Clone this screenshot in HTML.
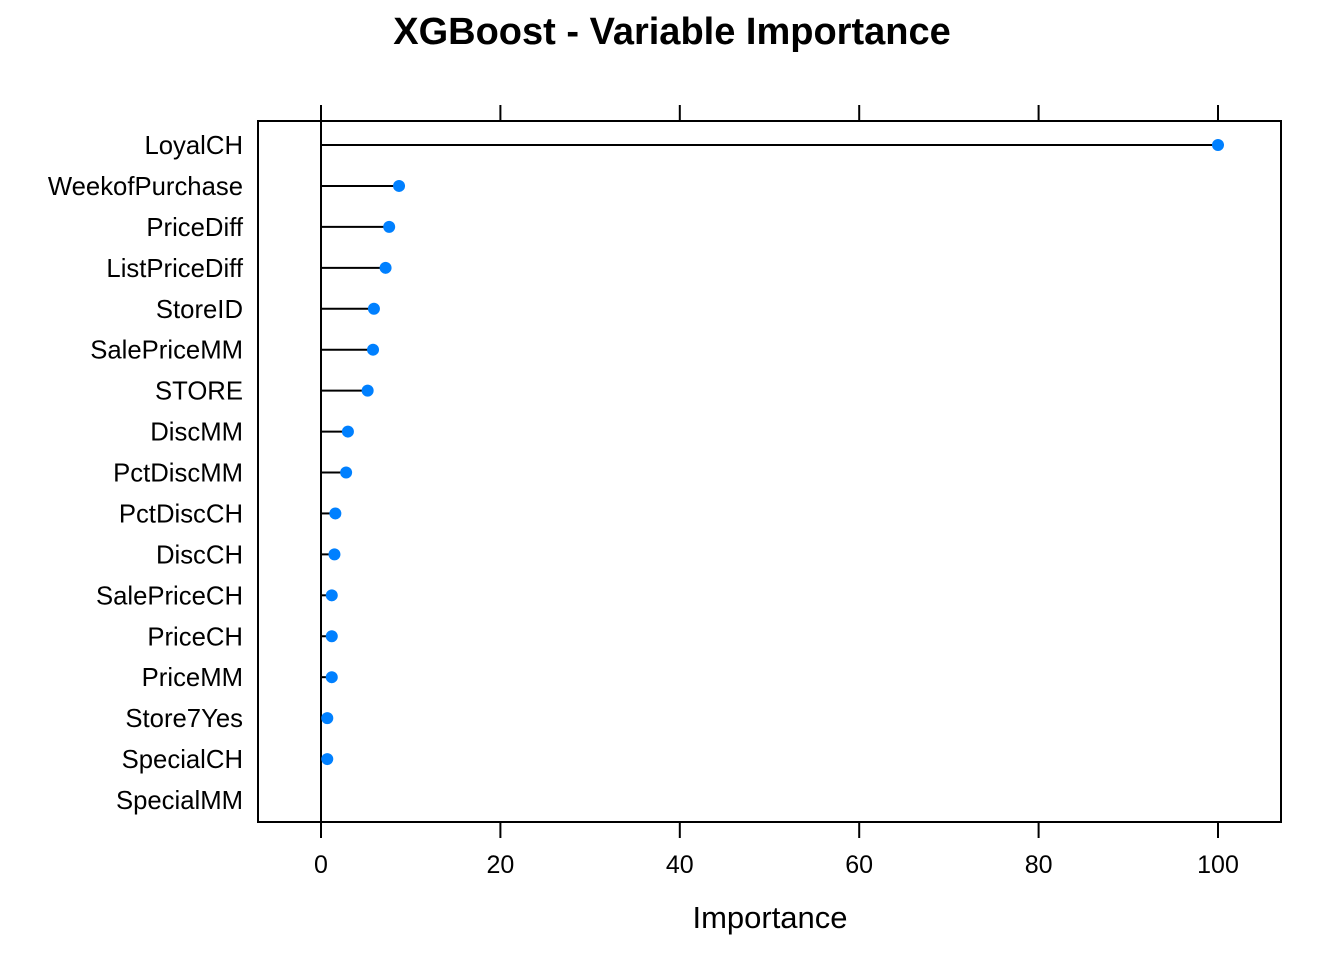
<!DOCTYPE html>
<html><head><meta charset="utf-8"><style>
html,body{margin:0;padding:0;background:#fff;}
svg{display:block;font-family:"Liberation Sans",Arial,sans-serif;}
</style></head><body>
<svg id="chart" width="1344" height="960">
<text x="672" y="44" text-anchor="middle" font-size="38" font-weight="bold">XGBoost - Variable Importance</text>
<rect x="258" y="121" width="1023" height="701" fill="none" stroke="#000" stroke-width="2"/>
<g id="ticks"></g>
<g id="marks"></g>
<text x="770" y="928" text-anchor="middle" font-size="31">Importance</text>
</svg>
<script>
const categories = ["LoyalCH","WeekofPurchase","PriceDiff","ListPriceDiff","StoreID","SalePriceMM","STORE","DiscMM","PctDiscMM","PctDiscCH","DiscCH","SalePriceCH","PriceCH","PriceMM","Store7Yes","SpecialCH","SpecialMM"];
const values = [100,8.7,7.6,7.2,5.9,5.8,5.2,3.0,2.8,1.6,1.5,1.2,1.2,1.2,0.7,0.7,null];
const ticks = [0,20,40,60,80,100];
const NS="http://www.w3.org/2000/svg";
const x = v => 321 + v*8.97;
const y = i => 145 + i*(800-145)/(categories.length-1);
function mk(tag, attrs){const e=document.createElementNS(NS,tag);for(const k in attrs)e.setAttribute(k,attrs[k]);return e;}
const tg=document.getElementById('ticks'), mg=document.getElementById('marks');
ticks.forEach(t=>{
  const a=mk('line',{x1:x(t),x2:x(t),y1:105,y2:121,stroke:'#000','stroke-width':2});
  
  
  tg.appendChild(a);
  const b=mk('line',{x1:x(t),x2:x(t),y1:822,y2:838,stroke:'#000','stroke-width':2});
  
  
  tg.appendChild(b);
  const l=mk('text',{x:x(t),y:873,'text-anchor':'middle','font-size':25});
  l.textContent=t;
  
  
  tg.appendChild(l);
});
const base=mk('line',{x1:x(0),x2:x(0),y1:121,y2:822,stroke:'#000','stroke-width':2});


mg.appendChild(base);
categories.forEach((c,i)=>{
  const l=mk('text',{x:243,y:y(i)+9,'text-anchor':'end','font-size':25.7});
  l.textContent=c;
  
  
  mg.appendChild(l);
  const v=values[i];
  if(v==null)return;
  const s=mk('line',{x1:x(0),x2:x(v),y1:y(i),y2:y(i),stroke:'#000','stroke-width':2});
  
  
  mg.appendChild(s);
  const d=mk('circle',{cx:x(v),cy:y(i),r:6,fill:'#0080ff'});
  
  
  mg.appendChild(d);
});
</script>
</body></html>
